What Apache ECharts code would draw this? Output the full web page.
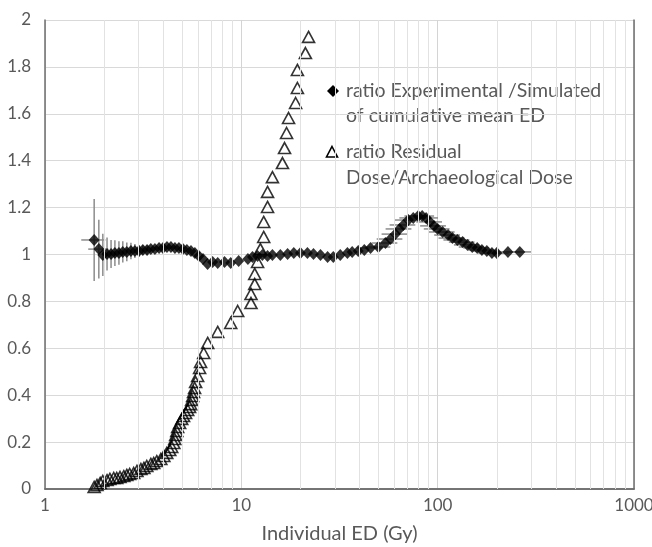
<!DOCTYPE html>
<html>
<head>
<meta charset="utf-8">
<script src="https://cdn.jsdelivr.net/npm/echarts@6/dist/echarts.min.js"></script>
<style>
html, body { margin: 0; padding: 0; background: #fff; }
#main { width: 652px; height: 547px; }
</style>
</head>
<body>
<div id="main"></div>
<script>
// ratio Experimental / Simulated of cumulative mean ED (diamonds)
var diamondX = [1.78,1.88,1.97,2.07,2.17,2.27,2.38,2.49,2.61,2.74,
    2.87,3.01,3.15,3.31,3.46,3.63,3.81,3.99,4.18,4.38,
    4.59,4.81,5.04,5.28,5.54,5.80,6.08,6.38,6.73,7.14,
    7.58,8.21,8.83,9.69,10.8,11.4,12.1,12.8,13.6,14.4,
    15.8,17.2,18.5,20.0,21.7,23.3,25.3,27.5,29.4,31.9,
    34.7,36.7,39.4,42.3,45.5,49.9,54.2,57.5,60.9,63.9,
    66.9,70.9,75.1,79.6,83.4,87.3,91.5,95.8,100,106,
    113,119,126,134,142,150,159,168,178,189,
    200,228,262];
var diamondY = [1.062,1.023,0.998,1.002,1.002,1.006,1.006,1.011,1.011,1.015,
    1.015,1.015,1.019,1.019,1.023,1.023,1.028,1.028,1.032,1.032,
    1.028,1.028,1.023,1.019,1.015,1.006,0.994,0.981,0.959,0.968,
    0.964,0.968,0.964,0.972,0.981,0.989,0.994,0.998,0.994,0.998,
    0.998,1.002,1.006,1.006,1.006,1.002,0.998,0.989,0.989,0.998,
    1.006,1.011,1.015,1.019,1.028,1.032,1.049,1.066,1.087,1.109,
    1.126,1.147,1.156,1.164,1.164,1.156,1.139,1.122,1.109,1.096,
    1.083,1.070,1.062,1.053,1.041,1.032,1.028,1.019,1.015,1.006,
    1.006,1.011,1.011];
// error bars (half widths): vertical on ratio, horizontal on ED
var errY = [0.175,0.125,0.09,0.07,0.06,0.055,0.05,0.045,0.04,0.035,
    0.03,0.025,0.02,0.02,0,0,0,0,0,0,
    0,0,0,0,0,0,0,0,0,0,
    0,0,0,0,0,0,0,0,0,0,
    0,0,0,0,0,0,0,0,0,0,
    0,0,0,0,0,0,0,0,0,0,
    0,0,0,0,0,0,0,0,0,0,
    0,0,0,0,0,0,0,0,0,0,
    0,0,0];
var errX = [0.25,0.22,0,0,0,0,0,0,0,0,
    0,0,0,0,0,0,0,0,0,0,
    0,0,0,0,0,0,0,0,0,0,
    0,0,0,0,0,0,0,0,0,0,
    0,0,0,0,0,0,0,0,0,0,
    0,0,0,0,6.8,7.5,8.1,8.6,9.1,9.6,
    10,10.6,11.3,11.9,12.5,13.1,13.7,14.4,15,16,
    17,18,19,20,21,22,24,25,27,28,
    30,34,39];

// ratio Residual Dose / Archaeological Dose (triangles)
var triX = [1.78,1.84,1.91,1.97,2.07,2.14,2.24,2.32,2.41,2.52,
    2.61,2.70,2.83,2.94,3.08,3.19,3.30,3.46,3.58,3.71,
    3.89,4.03,4.17,4.32,4.42,4.53,4.58,4.63,4.69,4.74,
    4.85,4.97,5.08,5.20,5.33,5.45,5.52,5.58,5.65,5.71,
    5.78,5.85,5.99,6.13,6.20,6.43,6.74,7.58,8.83,9.58,
    11.2,11.2,11.7,11.7,12.1,12.5,13.0,13.0,13.6,13.6,
    14.4,16.2,16.6,17.0,17.4,18.9,19.3,19.3,21.2,22.0];
var triY = [0.009,0.017,0.026,0.034,0.038,0.043,0.047,0.047,0.051,0.055,
    0.060,0.064,0.068,0.077,0.085,0.090,0.098,0.107,0.111,0.119,
    0.128,0.141,0.154,0.166,0.179,0.196,0.213,0.230,0.247,0.264,
    0.281,0.299,0.311,0.324,0.337,0.350,0.362,0.380,0.397,0.414,
    0.431,0.456,0.482,0.516,0.542,0.580,0.623,0.670,0.708,0.759,
    0.793,0.832,0.874,0.917,0.968,1.023,1.075,1.139,1.203,1.267,
    1.330,1.390,1.454,1.518,1.582,1.646,1.710,1.787,1.859,1.928];

// minor log grid lines
var minorLines = [2,3,4,5,6,7,8,9,20,30,40,50,60,70,80,90,200,300,400,500,600,700,800,900];

var textColor = '#595959';
var fontFam = 'Lato, "Liberation Sans", sans-serif';

var diamondData = [], triData = [], errData = [];
for (var i = 0; i < diamondX.length; i++) {
    diamondData.push([diamondX[i], diamondY[i]]);
    errData.push([diamondX[i], diamondY[i], errX[i], errY[i]]);
}
for (var j = 0; j < triX.length; j++) {
    triData.push([triX[j], triY[j]]);
}

var myChart = echarts.init(document.getElementById('main'));
var option = {
    animation: false,
    grid: { left: 45, right: 18, top: 20, bottom: 58, outerBoundsMode: 'none', containLabel: false },
    xAxis: [
        {
            type: 'log',
            logBase: 10,
            min: 1,
            max: 1000,
            name: 'Individual ED (Gy)',
            nameLocation: 'middle',
            nameGap: 35,
            nameTextStyle: { color: textColor, fontSize: 20, fontFamily: fontFam },
            axisLine: { lineStyle: { color: '#6e6e6e', width: 1.5 } },
            axisTick: { show: false },
            axisLabel: {
                color: textColor, fontSize: 17, fontFamily: fontFam, margin: 8,
                formatter: function (v) { return String(Math.round(v)); }
            },
            splitLine: { show: true, lineStyle: { color: '#d4d4d4', width: 1 } }
        },
        {
            type: 'log',
            logBase: 10,
            min: 1,
            max: 1000,
            position: 'top',
            axisLine: { show: true, lineStyle: { color: '#6e6e6e', width: 1.5 } },
            axisTick: { show: false },
            axisLabel: { show: false },
            splitLine: { show: false }
        }
    ],
    yAxis: [
        {
            type: 'value',
            min: 0,
            max: 2,
            interval: 0.2,
            axisLine: { show: true, lineStyle: { color: '#6e6e6e', width: 1.5 } },
            axisTick: { show: false },
            axisLabel: { color: textColor, fontSize: 17, fontFamily: fontFam, margin: 14 },
            splitLine: { show: true, lineStyle: { color: '#d9d9d9', width: 1 } }
        },
        {
            type: 'value',
            min: 0,
            max: 2,
            interval: 0.2,
            position: 'right',
            axisLine: { show: true, lineStyle: { color: '#6e6e6e', width: 1.5 } },
            axisTick: { show: false },
            axisLabel: { show: false },
            splitLine: { show: false }
        }
    ],
    graphic: [
        {
            type: 'polygon',
            shape: { points: [[333, 85], [339, 91], [333, 97], [327, 91]] },
            style: { fill: '#000' }
        },
        {
            type: 'text',
            left: 346,
            top: 78,
            style: {
                text: 'ratio Experimental /Simulated\nof cumulative mean ED',
                fill: textColor,
                fontSize: 19.5,
                fontFamily: fontFam,
                lineHeight: 25
            }
        },
        {
            type: 'polygon',
            shape: { points: [[332, 146.5], [337.5, 157], [326.5, 157]] },
            style: { fill: 'none', stroke: '#000', lineWidth: 1.6 }
        },
        {
            type: 'text',
            left: 346,
            top: 139,
            style: {
                text: 'ratio Residual\nDose/Archaeological Dose',
                fill: textColor,
                fontSize: 19.5,
                fontFamily: fontFam,
                lineHeight: 26
            }
        }
    ],
    series: [
        {
            type: 'scatter',
            data: [],
            z: 1,
            silent: true,
            markLine: {
                silent: true,
                symbol: ['none', 'none'],
                label: { show: false },
                lineStyle: { color: '#e2e2e2', width: 1, type: 'solid' },
                data: minorLines.map(function (v) { return { xAxis: v }; })
            }
        },
        {
            name: 'ratio Residual Dose/Archaeological Dose',
            type: 'scatter',
            z: 2,
            data: triData,
            symbol: 'triangle',
            symbolSize: [12, 11],
            itemStyle: { color: 'rgba(0,0,0,0)', borderColor: '#000', borderWidth: 1.6 }
        },
        {
            type: 'custom',
            z: 3,
            silent: true,
            data: errData,
            encode: { x: 0, y: 1 },
            renderItem: function (params, api) {
                var x = api.value(0), y = api.value(1), ex = api.value(2), ey = api.value(3);
                var children = [];
                var st = { stroke: '#8c8c8c', lineWidth: 1.5 };
                if (ey > 0) {
                    var a = api.coord([x, y - ey]), b = api.coord([x, y + ey]);
                    children.push({ type: 'line', shape: { x1: a[0], y1: a[1], x2: b[0], y2: b[1] }, style: st });
                }
                if (ex > 0) {
                    var c = api.coord([x - ex, y]), d = api.coord([x + ex, y]);
                    children.push({ type: 'line', shape: { x1: c[0], y1: c[1], x2: d[0], y2: d[1] }, style: st });
                }
                return { type: 'group', children: children };
            }
        },
        {
            name: 'ratio Experimental /Simulated of cumulative mean ED',
            type: 'scatter',
            z: 4,
            data: diamondData,
            symbol: 'diamond',
            symbolSize: [11, 12],
            itemStyle: { color: '#000' }
        }
    ]
};
myChart.setOption(option);
window.addEventListener('resize', function () {
    myChart.resize();
});
</script>
</body>
</html>
